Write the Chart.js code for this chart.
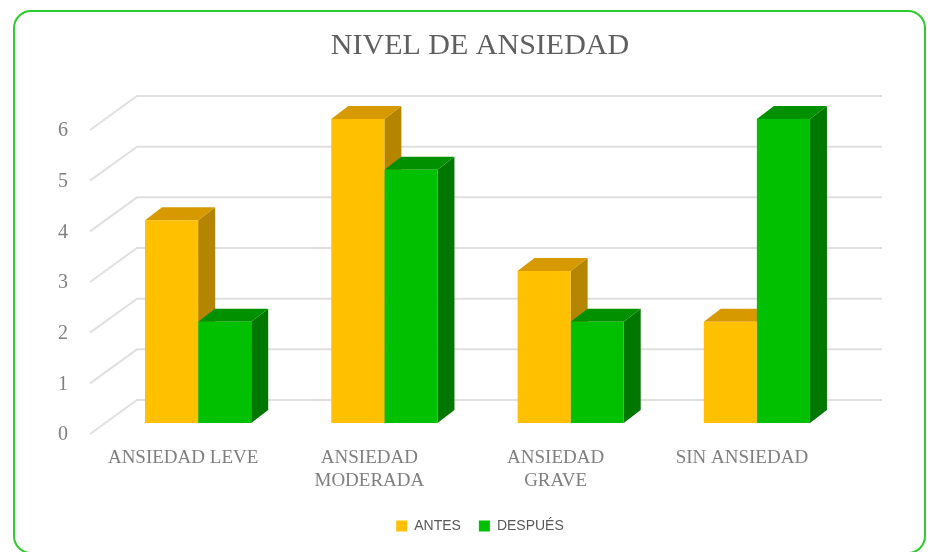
<!DOCTYPE html>
<html>
<head>
<meta charset="utf-8">
<title>Nivel de ansiedad</title>
<script src="https://cdn.jsdelivr.net/npm/chart.js@4.4.0/dist/chart.umd.min.js"></script>
<style>
    body { margin: 0; background: #fff; }
    #wrap { position: relative; width: 930px; height: 552px; }
    #frame {
        position: absolute; left: 13px; top: 10px;
        width: 909px; height: 540px;
        border: 2px solid #2fcc2f; border-radius: 18px;
    }
    canvas { position: absolute; left: 0; top: 0; }
</style>
</head>
<body>
<div id="wrap">
    <div id="frame"></div>
    <canvas id="chart" width="930" height="552"></canvas>
</div>
<script>
// datos del gráfico
const categories = [['ANSIEDAD LEVE'], ['ANSIEDAD', 'MODERADA'], ['ANSIEDAD', 'GRAVE'], ['SIN ANSIEDAD']];
const antes = [4, 6, 3, 2];
const despues = [2, 5, 2, 6];
const yTicks = [0, 1, 2, 3, 4, 5, 6];

// desplazamientos de la "perspectiva" 3D
const DEPTH_X = 17, DEPTH_Y = -13;   // fondo de cada barra
const WALL_X = 32, WALL_Y = -23;     // pared del fondo
const FLOOR_X = -15, FLOOR_Y = 11;   // borde delantero del piso
const sideColors = ['#b58500', '#007800'];
const topColors = ['#d69900', '#009000'];

// dibuja la rejilla del fondo y las caras laterales/superiores de las barras
const box3d = {
    id: 'box3d',
    beforeDatasetsDraw(chart) {
        const ctx = chart.ctx;
        const area = chart.chartArea;
        const yScale = chart.scales.y;
        ctx.save();

        ctx.strokeStyle = '#e0e0e0';
        ctx.lineWidth = 2;
        yTicks.forEach(v => {
            const py = yScale.getPixelForValue(v);
            ctx.beginPath();
            ctx.moveTo(area.left + FLOOR_X, py + FLOOR_Y);
            ctx.lineTo(area.left + WALL_X, py + WALL_Y);
            ctx.lineTo(area.right + WALL_X, py + WALL_Y);
            ctx.stroke();
        });

        chart.data.datasets.forEach((ds, i) => {
            chart.getDatasetMeta(i).data.forEach(bar => {
                const l = bar.x - bar.width / 2;
                const r = bar.x + bar.width / 2;
                const t = bar.y;
                const b = bar.base;

                ctx.fillStyle = sideColors[i];
                ctx.beginPath();
                ctx.moveTo(r, t);
                ctx.lineTo(r + DEPTH_X, t + DEPTH_Y);
                ctx.lineTo(r + DEPTH_X, b + DEPTH_Y);
                ctx.lineTo(r, b);
                ctx.closePath();
                ctx.fill();

                ctx.fillStyle = topColors[i];
                ctx.beginPath();
                ctx.moveTo(l, t);
                ctx.lineTo(l + DEPTH_X, t + DEPTH_Y);
                ctx.lineTo(r + DEPTH_X, t + DEPTH_Y);
                ctx.lineTo(r, t);
                ctx.closePath();
                ctx.fill();
            });
        });
        ctx.restore();
    }
};

document.addEventListener('DOMContentLoaded', function() {
    const serif = 'Liberation Serif, Times New Roman, serif';

    new Chart(document.getElementById('chart'), {
        type: 'bar',
        data: {
            labels: categories,
            datasets: [
                {
                    label: 'ANTES',
                    data: antes,
                    backgroundColor: '#ffc000',
                    borderWidth: 0
                },
                {
                    label: 'DESPUÉS',
                    data: despues,
                    backgroundColor: '#00c000',
                    borderWidth: 0
                }
            ]
        },
        options: {
            responsive: false,
            animation: false,
            categoryPercentage: 0.57,
            barPercentage: 1,
            layout: {
                padding: { top: 14, bottom: 9, left: 30, right: 0 }
            },
            plugins: {
                title: {
                    display: true,
                    text: 'NIVEL DE ANSIEDAD',
                    color: '#5f5f5f',
                    font: { family: serif, size: 30, weight: 'normal', lineHeight: 1.2 },
                    padding: { top: 14, bottom: 55 }
                },
                legend: {
                    position: 'bottom',
                    labels: {
                        boxWidth: 11,
                        boxHeight: 11,
                        padding: 18,
                        color: '#595959',
                        font: { family: 'Liberation Sans, Arial, sans-serif', size: 14 }
                    }
                },
                tooltip: { enabled: false }
            },
            scales: {
                x: {
                    grid: { display: false, drawTicks: false },
                    border: { display: false },
                    ticks: {
                        color: '#7f7f7f',
                        font: { family: serif, size: 19, lineHeight: 1.22 },
                        padding: 23,
                        labelOffset: FLOOR_X,
                        maxRotation: 0,
                        autoSkip: false
                    },
                    afterFit(scale) { scale.height = 78; }
                },
                y: {
                    min: 0,
                    max: 6,
                    grid: { display: false, drawTicks: false },
                    border: { display: false },
                    ticks: {
                        stepSize: 1,
                        color: '#7f7f7f',
                        font: { family: serif, size: 20 },
                        padding: 37,
                        labelOffset: FLOOR_Y + 1
                    },
                    afterFit(scale) { scale.width = 75; }
                },
                // eje vacío solo para dejar el margen derecho
                yR: {
                    type: 'linear',
                    axis: 'y',
                    position: 'right',
                    grid: { display: false },
                    border: { display: false },
                    ticks: { display: false },
                    afterFit(scale) { scale.width = 80; }
                }
            }
        },
        plugins: [box3d]
    });
});
</script>
</body>
</html>
